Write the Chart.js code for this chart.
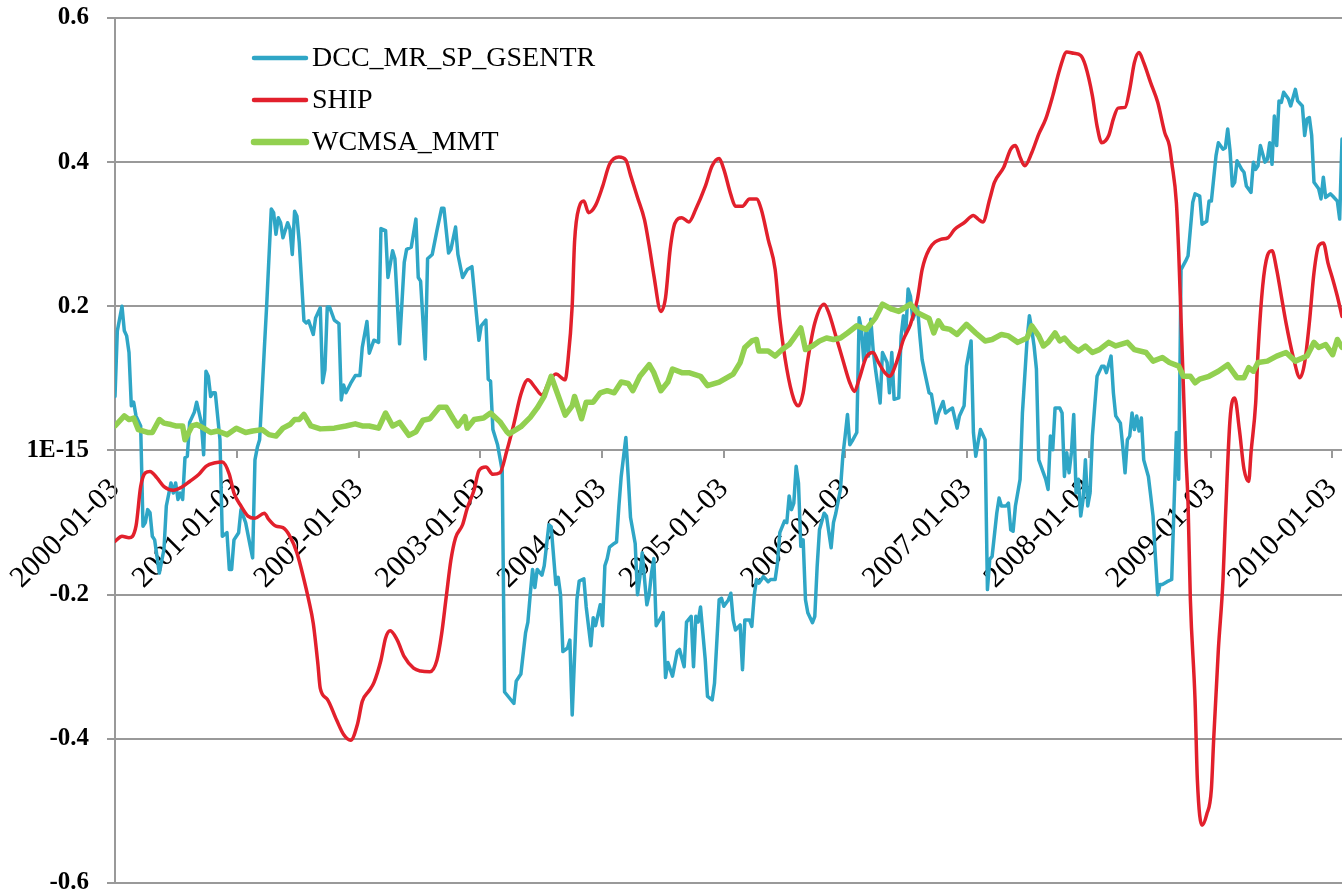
<!DOCTYPE html>
<html>
<head>
<meta charset="utf-8">
<title>DCC vs SHIP vs WCMSA</title>
<script src="https://cdn.jsdelivr.net/npm/chart.js@4.4.0/dist/chart.umd.min.js"></script>
<style>
  html, body { margin: 0; padding: 0; background: #fff; }
  #wrap { width: 1342px; height: 894px; position: relative; }
</style>
</head>
<body>
<div id="wrap"><canvas id="chart"></canvas></div>
<script>
// series names, axis labels
const seriesNames = ['DCC_MR_SP_GSENTR', 'SHIP', 'WCMSA_MMT'];
const yearLabels = ['2000-01-03', '2001-01-03', '2002-01-03', '2003-01-03', '2004-01-03', '2005-01-03',
  '2006-01-03', '2007-01-03', '2008-01-03', '2009-01-03', '2010-01-03'];
const yTickLabels = ['-0.6', '-0.4', '-0.2', '1E-15', '0.2', '0.4', '0.6'];

// [week since 2000-01-03, value]
const dcc = [
  [0,0.075],[1,0.166],[3,0.20],[4,0.166],[5,0.159],[6,0.136],[7,0.062],[8,0.067],[9,0.048],[11,0.034],
  [12,-0.105],[13,-0.10],[14,-0.082],[15,-0.086],[16,-0.119],[17,-0.124],[19,-0.17],[21,-0.137],[22,-0.077],
  [24,-0.045],[25,-0.059],[26,-0.045],[27,-0.068],[28,-0.059],[29,-0.068],[30,-0.01],[31,-0.008],[32,0.039],
  [34,0.053],[35,0.067],[37,0.039],[38,-0.006],[39,0.11],[40,0.103],[41,0.075],[42,0.08],[43,0.08],[45,0.015],
  [46,-0.119],[48,-0.114],[49,-0.165],[50,-0.165],[51,-0.124],[53,-0.114],[54,-0.082],[56,-0.10],[58,-0.133],
  [59,-0.149],[60,-0.013],[61,0.004],[62,0.015],[64,0.14],[65,0.20],[67,0.335],[68,0.33],[69,0.30],[70,0.323],
  [71,0.316],[72,0.295],[74,0.316],[75,0.307],[76,0.272],[77,0.332],[78,0.325],[79,0.288],[81,0.18],[82,0.177],
  [83,0.18],[85,0.161],[86,0.184],[88,0.198],[89,0.094],[90,0.112],[91,0.199],[92,0.199],[94,0.181],[96,0.176],
  [97,0.07],[98,0.091],[99,0.08],[101,0.093],[103,0.104],[105,0.104],[106,0.143],[108,0.179],[109,0.135],
  [111,0.153],[113,0.15],[114,0.308],[116,0.305],[117,0.24],[119,0.277],[120,0.266],[122,0.148],[124,0.261],
  [125,0.279],[127,0.282],[129,0.321],[130,0.24],[131,0.235],[133,0.127],[134,0.266],[136,0.272],[138,0.305],
  [140,0.336],[141,0.336],[143,0.274],[144,0.279],[146,0.31],[147,0.272],[149,0.24],[151,0.251],[153,0.255],
  [156,0.153],[157,0.173],[159,0.181],[160,0.099],[161,0.096],[162,0.029],[164,0.008],[166,-0.028],
  [167,-0.335],[169,-0.343],[171,-0.351],[172,-0.32],[174,-0.31],[176,-0.253],[177,-0.238],[178,-0.2],
  [179,-0.165],[180,-0.19],[181,-0.165],[183,-0.173],[184,-0.16],[186,-0.103],[187,-0.106],[189,-0.186],
  [190,-0.176],[191,-0.2],[192,-0.279],[194,-0.274],[195,-0.263],[196,-0.367],[198,-0.207],[199,-0.181],
  [201,-0.178],[202,-0.217],[204,-0.271],[205,-0.232],[206,-0.243],[208,-0.214],[209,-0.243],[210,-0.16],
  [211,-0.15],[212,-0.134],[214,-0.129],[215,-0.127],[216,-0.078],[217,-0.036],[219,0.018],[220,-0.036],
  [221,-0.093],[223,-0.129],[224,-0.2],[225,-0.176],[226,-0.142],[228,-0.214],[229,-0.2],[230,-0.17],
  [231,-0.15],[232,-0.243],[234,-0.232],[235,-0.225],[236,-0.315],[237,-0.294],[239,-0.313],[241,-0.279],
  [242,-0.276],[244,-0.30],[245,-0.238],[247,-0.23],[248,-0.30],[249,-0.23],[250,-0.238],[251,-0.217],
  [253,-0.289],[254,-0.341],[256,-0.346],[257,-0.323],[259,-0.207],[260,-0.205],[261,-0.216],[263,-0.207],
  [264,-0.198],[265,-0.235],[266,-0.249],[268,-0.242],[269,-0.304],[270,-0.235],[272,-0.235],[273,-0.244],
  [274,-0.202],[275,-0.179],[276,-0.184],[278,-0.175],[280,-0.182],[281,-0.179],[283,-0.179],[284,-0.156],
  [285,-0.114],[287,-0.098],[288,-0.10],[289,-0.063],[290,-0.082],[291,-0.073],[292,-0.022],[293,-0.045],
  [294,-0.133],[295,-0.124],[296,-0.207],[297,-0.225],[299,-0.239],[300,-0.23],[301,-0.161],[302,-0.11],
  [304,-0.087],[305,-0.091],[307,-0.135],[308,-0.10],[309,-0.087],[311,-0.054],[312,-0.008],[313,0.02],
  [314,0.05],[315,0.008],[316,0.013],[318,0.025],[319,0.184],[320,0.168],[321,0.124],[322,0.168],[323,0.131],
  [324,0.182],[325,0.14],[326,0.113],[328,0.066],[329,0.136],[331,0.122],[332,0.08],[333,0.136],[334,0.071],
  [336,0.073],[337,0.159],[338,0.187],[339,0.163],[340,0.224],[341,0.214],[342,0.182],[344,0.20],[345,0.16],
  [346,0.126],[347,0.11],[349,0.08],[350,0.078],[352,0.038],[353,0.052],[355,0.068],[356,0.052],[358,0.057],
  [359,0.059],[361,0.031],[362,0.048],[364,0.062],[365,0.117],[367,0.152],[368,0.025],[369,-0.008],[370,0.011],
  [371,0.029],[373,0.015],[374,-0.193],[375,-0.151],[376,-0.147],[378,-0.087],[379,-0.066],[380,-0.077],
  [382,-0.077],[383,-0.073],[384,-0.11],[385,-0.112],[386,-0.077],[388,-0.04],[389,0.052],[391,0.154],
  [392,0.187],[393,0.168],[394,0.145],[395,0.113],[396,-0.013],[398,-0.031],[399,-0.04],[400,-0.054],
  [401,0.02],[402,0.001],[403,0.059],[405,0.059],[406,0.052],[407,-0.036],[408,-0.003],[409,-0.031],
  [410,-0.003],[411,0.05],[412,-0.059],[413,-0.04],[414,-0.091],[415,-0.068],[416,-0.013],[417,-0.077],
  [418,-0.059],[419,0.02],[420,0.062],[421,0.103],[423,0.117],[424,0.117],[425,0.108],[427,0.131],[428,0.08],
  [429,0.048],[431,0.038],[432,0.006],[433,-0.031],[434,0.015],[435,0.02],[436,0.052],[437,0.029],[438,0.048],
  [439,0.027],[440,0.045],[441,-0.013],[443,-0.036],[444,-0.063],[445,-0.091],[446,-0.147],[447,-0.2],
  [448,-0.186],[449,-0.186],[451,-0.182],[453,-0.179],[454,-0.077],[455,0.025],[456,-0.04],[457,0.251],
  [459,0.263],[460,0.27],[462,0.344],[463,0.356],[465,0.353],[466,0.314],[468,0.318],[469,0.346],[470,0.346],
  [472,0.409],[473,0.427],[475,0.418],[476,0.42],[477,0.446],[478,0.416],[479,0.367],[480,0.372],[481,0.402],
  [483,0.39],[484,0.386],[485,0.367],[487,0.358],[488,0.40],[489,0.39],[490,0.395],[491,0.423],[493,0.40],
  [494,0.404],[495,0.427],[496,0.397],[497,0.464],[498,0.423],[499,0.485],[500,0.483],[501,0.497],[503,0.488],
  [504,0.478],[506,0.501],[507,0.485],[509,0.478],[510,0.437],[511,0.46],[512,0.462],[513,0.437],[514,0.372],
  [516,0.363],[517,0.349],[518,0.379],[519,0.351],[521,0.356],[522,0.353],[524,0.346],[525,0.321],[526,0.432]
];

const ship = [
  [0,-0.126],[3,-0.119],[6,-0.121],[9,-0.105],[11,-0.05],[13,-0.031],[15,-0.029],[18,-0.038],[21,-0.05],
  [25,-0.055],[29,-0.05],[32,-0.043],[36,-0.033],[39,-0.022],[43,-0.017],[46,-0.016],[49,-0.033],[51,-0.059],
  [54,-0.077],[57,-0.091],[60,-0.094],[64,-0.087],[66,-0.096],[69,-0.105],[72,-0.107],[75,-0.119],[78,-0.142],
  [81,-0.179],[83,-0.207],[85,-0.24],[87,-0.297],[88,-0.33],[91,-0.345],[95,-0.374],[98,-0.394],[101,-0.402],
  [104,-0.379],[106,-0.348],[109,-0.333],[111,-0.322],[114,-0.291],[116,-0.26],[118,-0.25],[121,-0.263],
  [124,-0.286],[128,-0.302],[131,-0.306],[135,-0.307],[138,-0.291],[140,-0.255],[142,-0.203],[144,-0.152],
  [146,-0.121],[149,-0.103],[151,-0.08],[154,-0.054],[156,-0.028],[159,-0.023],[162,-0.033],[165,-0.031],
  [168,0.0],[171,0.037],[174,0.078],[177,0.098],[180,0.088],[183,0.077],[186,0.095],[189,0.106],[193,0.098],
  [194,0.119],[196,0.201],[197,0.289],[199,0.338],[201,0.346],[203,0.33],[206,0.34],[209,0.366],[212,0.397],
  [216,0.407],[219,0.403],[221,0.382],[224,0.351],[227,0.32],[229,0.284],[231,0.243],[234,0.193],[236,0.212],
  [238,0.279],[240,0.315],[243,0.323],[246,0.317],[249,0.335],[253,0.366],[256,0.395],[259,0.405],[261,0.39],
  [264,0.355],[266,0.339],[269,0.339],[272,0.349],[275,0.349],[277,0.335],[280,0.293],[283,0.251],[285,0.182],
  [288,0.113],[291,0.071],[293,0.062],[295,0.08],[297,0.126],[300,0.177],[304,0.203],[306,0.191],[309,0.159],
  [312,0.126],[315,0.094],[317,0.082],[319,0.099],[322,0.129],[325,0.136],[327,0.124],[330,0.108],[332,0.103],
  [335,0.122],[338,0.154],[341,0.175],[344,0.21],[346,0.251],[349,0.279],[354,0.293],[357,0.295],[360,0.307],
  [364,0.316],[368,0.326],[370,0.321],[372,0.317],[375,0.349],[377,0.372],[381,0.393],[384,0.418],[386,0.423],
  [388,0.407],[390,0.395],[393,0.413],[396,0.439],[399,0.46],[402,0.492],[405,0.529],[408,0.553],[411,0.551],
  [414,0.548],[416,0.534],[419,0.492],[421,0.45],[423,0.427],[426,0.437],[428,0.46],[430,0.475],[433,0.476],
  [435,0.501],[437,0.538],[439,0.552],[441,0.538],[444,0.51],[447,0.483],[450,0.441],[452,0.423],[453,0.40],
  [455,0.344],[456,0.275],[457,0.182],[458,0.089],[459,-0.003],[460,-0.073],[461,-0.207],[463,-0.346],
  [464,-0.457],[466,-0.52],[468,-0.505],[470,-0.47],[471,-0.40],[473,-0.276],[475,-0.179],[476,-0.096],
  [478,0.043],[480,0.073],[482,0.029],[484,-0.026],[486,-0.043],[487,-0.003],[489,0.066],[490,0.136],
  [492,0.228],[494,0.27],[496,0.277],[498,0.251],[500,0.214],[502,0.177],[505,0.131],[508,0.101],[510,0.122],
  [512,0.177],[514,0.247],[516,0.284],[518,0.288],[520,0.26],[522,0.238],[524,0.214],[526,0.186]
];

const wcmsa = [
  [0,0.034],[4,0.048],[6,0.043],[8,0.045],[10,0.029],[14,0.025],[16,0.025],[19,0.043],[21,0.038],[24,0.036],
  [26,0.034],[29,0.034],[30,0.015],[33,0.034],[35,0.036],[38,0.031],[41,0.025],[44,0.027],[48,0.022],[52,0.031],
  [56,0.025],[59,0.027],[63,0.029],[66,0.022],[69,0.02],[72,0.031],[75,0.036],[77,0.043],[79,0.043],[81,0.05],
  [84,0.034],[88,0.03],[94,0.031],[99,0.034],[103,0.037],[106,0.034],[109,0.034],[113,0.031],[116,0.052],
  [119,0.034],[122,0.039],[126,0.021],[129,0.026],[132,0.042],[135,0.044],[139,0.06],[142,0.06],[145,0.044],
  [147,0.034],[150,0.047],[151,0.031],[154,0.043],[158,0.045],[161,0.052],[165,0.04],[168,0.026],[169,0.023],
  [174,0.033],[178,0.046],[181,0.059],[184,0.075],[187,0.103],[189,0.085],[193,0.049],[196,0.062],[197,0.075],
  [200,0.044],[202,0.067],[205,0.067],[208,0.08],[211,0.083],[214,0.08],[217,0.095],[220,0.093],[222,0.083],
  [225,0.103],[229,0.119],[231,0.108],[234,0.083],[237,0.095],[239,0.113],[243,0.108],[246,0.108],[251,0.103],
  [254,0.09],[259,0.095],[265,0.106],[268,0.122],[270,0.143],[273,0.152],[275,0.154],[276,0.138],[280,0.138],
  [283,0.131],[286,0.14],[289,0.147],[291,0.156],[294,0.17],[296,0.14],[299,0.145],[302,0.152],[305,0.156],
  [308,0.154],[311,0.156],[314,0.163],[318,0.173],[322,0.168],[326,0.184],[329,0.203],[333,0.196],[336,0.193],
  [341,0.203],[344,0.191],[349,0.183],[351,0.163],[353,0.18],[355,0.17],[358,0.168],[361,0.161],[365,0.175],
  [369,0.163],[373,0.152],[376,0.154],[380,0.161],[383,0.159],[387,0.15],[391,0.156],[393,0.173],[396,0.159],
  [398,0.145],[400,0.15],[403,0.163],[405,0.152],[407,0.156],[410,0.145],[413,0.138],[416,0.145],[419,0.136],
  [422,0.14],[426,0.15],[429,0.145],[434,0.15],[437,0.14],[442,0.136],[445,0.124],[449,0.129],[452,0.122],
  [456,0.117],[458,0.103],[461,0.103],[463,0.094],[465,0.099],[469,0.103],[473,0.11],[477,0.119],[479,0.11],
  [481,0.101],[484,0.101],[486,0.115],[488,0.11],[490,0.122],[494,0.124],[498,0.131],[502,0.136],[506,0.124],
  [511,0.131],[514,0.15],[516,0.143],[519,0.147],[522,0.133],[524,0.154],[526,0.143]
];

const weekOf = (label) => (Date.parse(label) - Date.parse(yearLabels[0])) / (7 * 86400000);
const tickWeeks = yearLabels.map(weekOf);
const toPoints = (arr) => arr.map(([x, y]) => ({ x, y }));

const serif = "'Liberation Serif', 'DejaVu Serif', serif";
const gridGray = '#999999';

// legend drawn inside the plot, top left
const insideLegend = {
  id: 'insideLegend',
  afterDraw(chart) {
    const { ctx, chartArea } = chart;
    const x0 = chartArea.left + 139;
    const y0 = chartArea.top + 40;
    ctx.save();
    ctx.font = '28px ' + serif;
    ctx.textBaseline = 'middle';
    ctx.fillStyle = '#000';
    chart.data.datasets.forEach((ds, i) => {
      const y = y0 + i * 42;
      ctx.strokeStyle = ds.borderColor;
      ctx.lineWidth = ds.borderWidth + 1;
      ctx.lineCap = 'round';
      ctx.beginPath();
      ctx.moveTo(x0, y);
      ctx.lineTo(x0 + 52, y);
      ctx.stroke();
      ctx.fillText(ds.label, x0 + 58, y + 1);
    });
    ctx.restore();
  }
};

new Chart(document.getElementById('chart'), {
  type: 'line',
  data: {
    datasets: [
      { label: seriesNames[0], data: toPoints(dcc), borderColor: '#2fa6c6', borderWidth: 3.5, tension: 0, order: 2 },
      { label: seriesNames[1], data: toPoints(ship), borderColor: '#e2202c', borderWidth: 3.5, cubicInterpolationMode: 'monotone', order: 1 },
      { label: seriesNames[2], data: toPoints(wcmsa), borderColor: '#92d050', borderWidth: 5.5, tension: 0, order: 0 }
    ]
  },
  options: {
    responsive: true,
    maintainAspectRatio: false,
    animation: false,
    layout: { padding: { top: 18, bottom: 11, left: 0, right: 0 } },
    elements: {
      point: { radius: 0 },
      line: { borderJoinStyle: 'round', borderCapStyle: 'round', fill: false }
    },
    plugins: { legend: { display: false }, tooltip: { enabled: false } },
    scales: {
      x: {
        type: 'linear',
        position: { y: 0 },
        min: 0,
        max: 526,
        afterBuildTicks: (s) => { s.ticks = tickWeeks.map(v => ({ value: v })); },
        afterFit: (s) => { s.paddingLeft = 0; s.paddingRight = 0; s.paddingTop = 0; s.paddingBottom = 0; },
        grid: { drawOnChartArea: false, drawTicks: true, tickLength: 7, color: gridGray, lineWidth: 2 },
        border: { display: false },
        ticks: {
          autoSkip: false, maxRotation: 45, minRotation: 45, padding: 14,
          color: '#000', font: { family: serif, size: 30 },
          callback: (v, i) => yearLabels[i]
        }
      },
      y: {
        min: -0.6,
        max: 0.6,
        afterBuildTicks: (s) => { s.ticks = yTickLabels.map(t => ({ value: Number(t) })); },
        afterFit: (s) => { s.width = 115; s.paddingTop = 0; s.paddingBottom = 0; },
        grid: { color: gridGray, lineWidth: 2, drawTicks: true, tickLength: 8 },
        border: { display: true, color: gridGray, width: 2 },
        ticks: {
          padding: 18, color: '#000', font: { family: serif, size: 25, weight: 'bold' },
          callback: (v, i) => yTickLabels[i]
        }
      }
    }
  },
  plugins: [insideLegend]
});
</script>
</body>
</html>
